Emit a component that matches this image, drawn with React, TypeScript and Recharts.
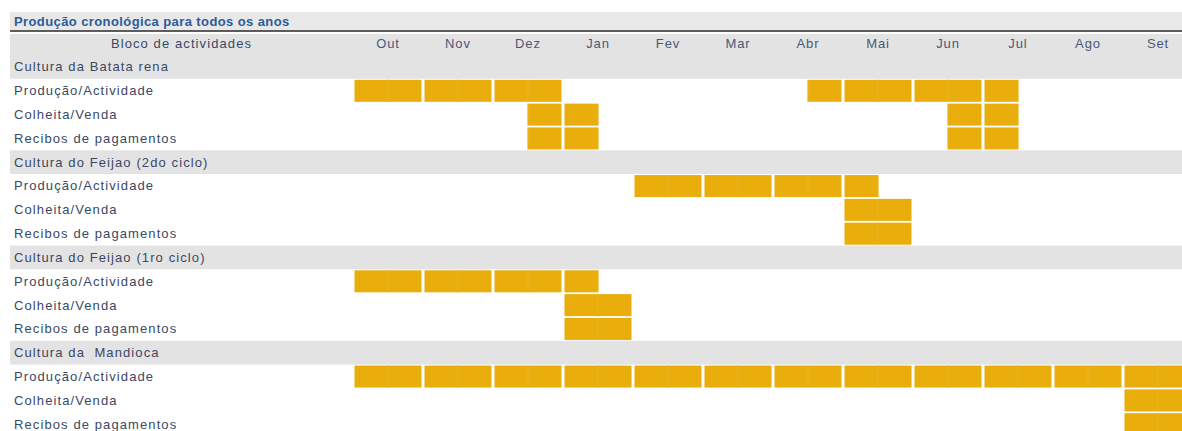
import { Bar, BarChart, XAxis, YAxis } from "recharts";

const MONTHS = ["Out", "Nov", "Dez", "Jan", "Fev", "Mar", "Abr", "Mai", "Jun", "Jul", "Ago", "Set"];

const CROPS = [
  "Cultura da Batata rena",
  "Cultura do Feijao (2do ciclo)",
  "Cultura do Feijao (1ro ciclo)",
  "Cultura da  Mandioca",
];

const ACTIVITIES = ["Produção/Actividade", "Colheita/Venda", "Recibos de pagamentos"];

// spans in half-months, [from, to) — 0 is the first half of Out
const batataProducao = [[0, 6], [13, 19]];
const batataColheita = [[5, 7], [17, 19]];
const batataRecibos = [[5, 7], [17, 19]];
const feijao2Producao = [[8, 15]];
const feijao2Colheita = [[14, 16]];
const feijao2Recibos = [[14, 16]];
const feijao1Producao = [[0, 7]];
const feijao1Colheita = [[6, 8]];
const feijao1Recibos = [[6, 8]];
const mandiocaProducao = [[0, 24]];
const mandiocaColheita = [[22, 24]];
const mandiocaRecibos = [[22, 24]];

const SPANS = [
  [batataProducao, batataColheita, batataRecibos],
  [feijao2Producao, feijao2Colheita, feijao2Recibos],
  [feijao1Producao, feijao1Colheita, feijao1Recibos],
  [mandiocaProducao, mandiocaColheita, mandiocaRecibos],
];

const SLOTS = MONTHS.length * 2;
const BAND = 23.8;
const FONT = "'Liberation Sans', Arial, Helvetica, sans-serif";
const TEXT = "#3a4865";
const BAR = "#e9ad0c";

type Row = { id: string; label: string; header: boolean; [k: string]: any };

function buildRow(id: string, label: string, header: boolean, spans: number[][]): Row {
  const row: Row = { id, label, header };
  for (let i = 0; i < SLOTS; i++) {
    row[`s${i}`] = 1;
    row[`on${i}`] = spans.some(([a, b]) => i >= a && i < b);
  }
  return row;
}

const rows: Row[] = [];
CROPS.forEach((crop, c) => {
  rows.push(buildRow(`c${c}`, crop, true, []));
  ACTIVITIES.forEach((act, a) => rows.push(buildRow(`c${c}a${a}`, act, false, SPANS[c][a])));
});
const rowById = Object.fromEntries(rows.map((r) => [r.id, r]));

const monthTicks = MONTHS.map((_, i) => i * 2 + 1);

function RowTick(props: any) {
  const { y, payload } = props;
  const row = rowById[payload.value];
  return (
    <g>
      {row.header && <rect x={10} y={y - BAND / 2} width={1190} height={BAND} fill="#e3e3e3" />}
      <text
        x={14}
        y={y}
        dy={4.5}
        fontSize={13}
        letterSpacing={1.1}
        fill={TEXT}
        fontFamily={FONT}
        style={{ whiteSpace: "pre" }}
      >
        {row.label}
      </text>
    </g>
  );
}

function MonthTick(props: any) {
  const { x, payload } = props;
  return (
    <text x={x} y={47.5} textAnchor="middle" fontSize={13} letterSpacing={0.9} fill="#4a5878" fontFamily={FONT}>
      {MONTHS[(payload.value - 1) / 2]}
    </text>
  );
}

function slotShape(i: number) {
  return (props: any) => {
    const { x, y, width, height, payload } = props;
    if (!payload || !payload[`on${i}`]) return <g />;
    const first = i % 2 === 0;
    return (
      <g>
        <rect
          x={first ? x + 1.5 : x - 0.5}
          y={y}
          width={width - 1}
          height={height}
          fill={BAR}
        />
        <line
          x1={first ? x + width : x}
          x2={first ? x + width : x}
          y1={y}
          y2={y + height}
          stroke="#eeb93a"
          strokeWidth={0.5}
        />
      </g>
    );
  };
}

export default function App() {
  return (
    <div
      style={{
        position: "absolute",
        left: 0,
        top: 0,
        width: 1182,
        height: 431,
        overflow: "hidden",
        background: "#fff",
        fontFamily: FONT,
      }}
    >
      <div
        style={{
          position: "absolute",
          left: 10,
          top: 12,
          width: 1190,
          height: 20,
          background: "#e8e8e8",
          borderBottom: "2px solid #5c5c5c",
          color: "#2d5b98",
          fontWeight: "bold",
          fontSize: 13,
          letterSpacing: 0.4,
          lineHeight: "20px",
          paddingLeft: 4,
          boxSizing: "border-box",
        }}
      >
        Produção cronológica para todos os anos
      </div>
      <div
        style={{
          position: "absolute",
          left: 10,
          top: 34,
          width: 1190,
          height: 21,
          background: "#e3e3e3",
        }}
      />
      <div
        style={{
          position: "absolute",
          left: 10,
          top: 34,
          width: 343,
          height: 21,
          lineHeight: "19px",
          textAlign: "center",
          fontSize: 13,
          letterSpacing: 1.1,
          color: TEXT,
        }}
      >
        Bloco de actividades
      </div>
      <div style={{ position: "absolute", left: 0, top: 0 }}>
        <BarChart
          width={1200}
          height={440}
          data={rows}
          layout="vertical"
          margin={{ top: 34, right: 7, bottom: 4, left: 0 }}
          barCategoryGap={1}
        >
          <XAxis
            type="number"
            orientation="top"
            domain={[0, SLOTS]}
            ticks={monthTicks}
            height={21}
            axisLine={false}
            tickLine={false}
            tick={<MonthTick />}
            interval={0}
          />
          <YAxis
            type="category"
            dataKey="id"
            width={353}
            axisLine={false}
            tickLine={false}
            tick={<RowTick />}
            interval={0}
          />
          {Array.from({ length: SLOTS }, (_, i) => (
            <Bar
              key={i}
              dataKey={`s${i}`}
              stackId="plan"
              isAnimationActive={false}
              shape={slotShape(i)}
            />
          ))}
        </BarChart>
      </div>
    </div>
  );
}
